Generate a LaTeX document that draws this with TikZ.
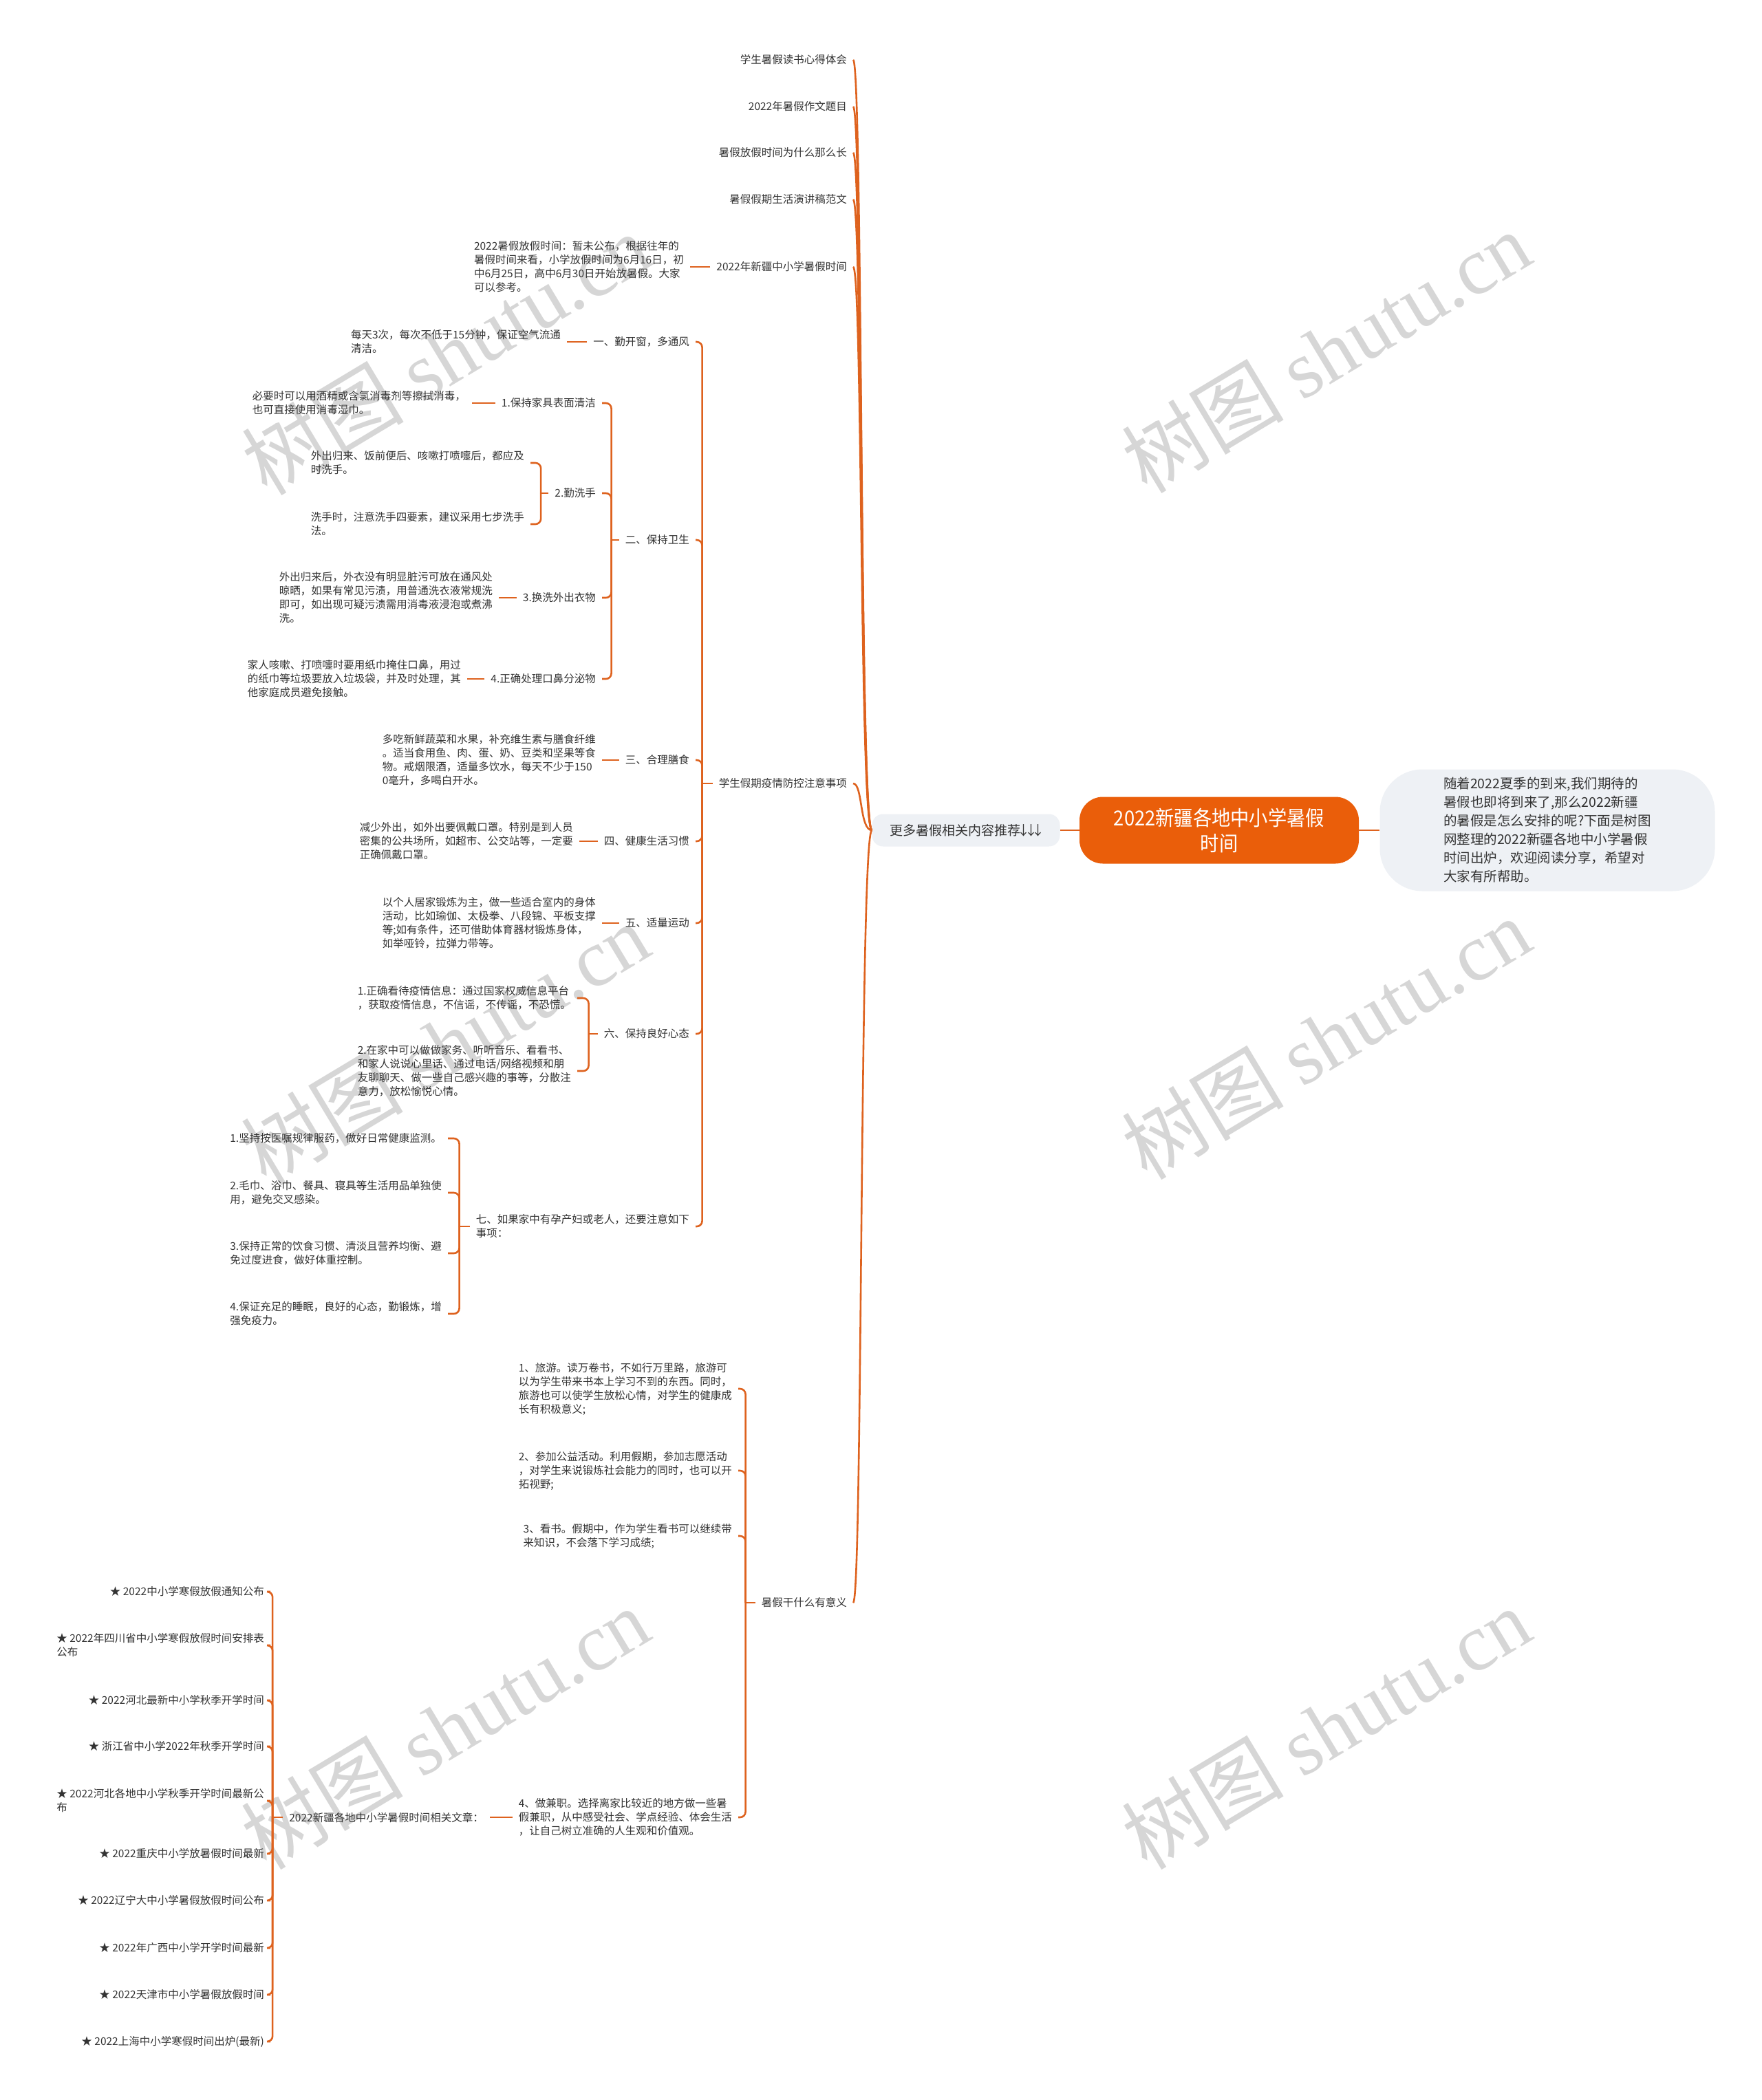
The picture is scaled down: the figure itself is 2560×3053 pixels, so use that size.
\documentclass[tikz,border=0pt]{standalone}
\usepackage{fontspec}
\setmainfont{Noto Sans CJK SC}
\newfontfamily\rootfont{Noto Sans CJK SC}[FakeStretch=0.91]
\newfontfamily\wmlat{Liberation Serif}
\definecolor{brc}{RGB}{222,98,30}
\definecolor{rootc}{RGB}{234,94,10}
\definecolor{boxc}{RGB}{238,241,245}
\definecolor{txc}{RGB}{51,51,51}
\definecolor{wmc}{RGB}{214,214,214}
\newcommand{\dnarrows}{\kern-0.25em↓\kern-0.45em↓\kern-0.45em↓\kern-0.2em}
\begin{document}
\begin{tikzpicture}[x=1pt,y=-1pt,
  br/.style={draw=brc,line width=2.6pt},
  hk/.style={br,rounded corners=8pt},
  tx/.style={inner xsep=9pt,inner ysep=3pt,align=left,text=txc,font=\fontsize{15.5pt}{20pt}\selectfont,anchor=east},
  wm/.style={text=wmc,font=\fontsize{118pt}{130pt}\selectfont,rotate=31,inner sep=0pt},
  rootbox/.style={fill=rootc,rounded corners=34pt,minimum width=406pt,minimum height=97pt,align=center,text=white,font=\rootfont\fontsize{30pt}{37pt}\selectfont,inner sep=0pt},
  graybox/.style={fill=boxc,text=txc,inner sep=0pt}]
\fill[white] (0,0) rectangle (2560,3053);
\useasboundingbox (0,0) rectangle (2560,3053);
% watermarks
\node[wm] (w1) at (648,514) {树图 {\wmlat shutu.cn}};
\node[wm] (w2) at (1927,511) {树图 {\wmlat shutu.cn}};
\node[wm] (w3) at (647,1517) {树图 {\wmlat shutu.cn}};
\node[wm] (w4) at (1927,1509) {树图 {\wmlat shutu.cn}};
\node[wm] (w5) at (647,2512) {树图 {\wmlat shutu.cn}};
\node[wm] (w6) at (1927,2512) {树图 {\wmlat shutu.cn}};
% central nodes
\node[rootbox] (root) at (1772,1207) {2022新疆各地中小学暑假\\时间};
\node[graybox,rounded corners=16pt,minimum width=273pt,minimum height=47pt,font=\fontsize{19pt}{22pt}\selectfont] (more) at (1404,1207) {更多暑假相关内容推荐\dnarrows};
\node[graybox,rounded corners=62pt,minimum width=487pt,minimum height=177pt,align=left,font=\fontsize{19.5pt}{27pt}\selectfont] (intro) at (2249,1207) {随着2022夏季的到来,我们期待的\\暑假也即将到来了,那么2022新疆\\的暑假是怎么安排的呢?下面是树图\\网整理的2022新疆各地中小学暑假\\时间出炉，欢迎阅读分享，希望对\\大家有所帮助。};
\draw[br] (root.west) -- (more.east);
\draw[br] (root.east) -- (intro.west);
% first level
\node[tx] (c1) at (1240,87) {学生暑假读书心得体会};
\node[tx] (c2) at (1240,155) {2022年暑假作文题目};
\node[tx] (c3) at (1240,222) {暑假放假时间为什么那么长};
\node[tx] (c4) at (1240,290) {暑假假期生活演讲稿范文};
\node[tx] (c5) at (1240,388) {2022年新疆中小学暑假时间};
\node[tx] (c6) at (1240,1139) {学生假期疫情防控注意事项};
\node[tx] (c7) at (1240,2330) {暑假干什么有意义};
\foreach \c in {c1,c2,c3,c4,c5,c6,c7}
  \draw[br] (more.west) .. controls +(-18,0) and +(14,0) .. (\c.east);
% c5
\node[tx] (c5a) at (1003,388) {2022暑假放假时间：暂未公布，根据往年的\\暑假时间来看，小学放假时间为6月16日，初\\中6月25日，高中6月30日开始放暑假。大家\\可以参考。};
\draw[br] (c5.west) -- (c5a.east);
% c6
\node[tx] (d1) at (1011,497) {一、勤开窗，多通风};
\node[tx] (d2) at (1011,785) {二、保持卫生};
\node[tx] (d3) at (1011,1105) {三、合理膳食};
\node[tx] (d4) at (1011,1223) {四、健康生活习惯};
\node[tx] (d5) at (1011,1342) {五、适量运动};
\node[tx] (d6) at (1011,1503) {六、保持良好心态};
\node[tx] (d7) at (1011,1783) {七、如果家中有孕产妇或老人，还要注意如下\\事项：};
\coordinate (j6) at ([xshift=-15pt]c6.west);
\draw[br] (c6.west) -- (j6);
\foreach \c in {d1,d2,d3,d4,d5,d6,d7}
  \draw[hk] (j6) |- (\c.east);
% d1
\node[tx] (e1) at (824,497) {每天3次，每次不低于15分钟，保证空气流通\\清洁。};
\draw[br] (d1.west) -- (e1.east);
% d2
\node[tx] (f1) at (875,586) {1.保持家具表面清洁};
\node[tx] (f2) at (875,717) {2.勤洗手};
\node[tx] (f3) at (875,869) {3.换洗外出衣物};
\node[tx] (f4) at (875,987) {4.正确处理口鼻分泌物};
\coordinate (jd2) at ([xshift=-11pt]d2.west);
\draw[br] (d2.west) -- (jd2);
\foreach \c in {f1,f2,f3,f4}
  \draw[hk] (jd2) |- (\c.east);
\node[tx] (g1) at (686,586) {必要时可以用酒精或含氯消毒剂等擦拭消毒，\\也可直接使用消毒湿巾。};
\draw[br] (f1.west) -- (g1.east);
\node[tx] (h1) at (771,673) {外出归来、饭前便后、咳嗽打喷嚏后，都应及\\时洗手。};
\node[tx] (h2) at (771,762) {洗手时，注意洗手四要素，建议采用七步洗手\\法。};
\coordinate (jf2) at ([xshift=-11pt]f2.west);
\draw[br] (f2.west) -- (jf2);
\foreach \c in {h1,h2}
  \draw[hk] (jf2) |- (\c.east);
\node[tx] (g3) at (725,869) {外出归来后，外衣没有明显脏污可放在通风处\\晾晒，如果有常见污渍，用普通洗衣液常规洗\\即可，如出现可疑污渍需用消毒液浸泡或煮沸\\洗。};
\draw[br] (f3.west) -- (g3.east);
\node[tx] (g4) at (679,987) {家人咳嗽、打喷嚏时要用纸巾掩住口鼻，用过\\的纸巾等垃圾要放入垃圾袋，并及时处理，其\\他家庭成员避免接触。};
\draw[br] (f4.west) -- (g4.east);
% d3-d5
\node[tx] (p3) at (875,1105) {多吃新鲜蔬菜和水果，补充维生素与膳食纤维\\。适当食用鱼、肉、蛋、奶、豆类和坚果等食\\物。戒烟限酒，适量多饮水，每天不少于150\\0毫升，多喝白开水。};
\draw[br] (d3.west) -- (p3.east);
\node[tx] (p4) at (842,1223) {减少外出，如外出要佩戴口罩。特别是到人员\\密集的公共场所，如超市、公交站等，一定要\\正确佩戴口罩。};
\draw[br] (d4.west) -- (p4.east);
\node[tx] (p5) at (875,1342) {以个人居家锻炼为主，做一些适合室内的身体\\活动，比如瑜伽、太极拳、八段锦、平板支撑\\等;如有条件，还可借助体育器材锻炼身体，\\如举哑铃，拉弹力带等。};
\draw[br] (d5.west) -- (p5.east);
% d6
\node[tx] (i1) at (839,1451) {1.正确看待疫情信息：通过国家权威信息平台\\，获取疫情信息，不信谣，不传谣，不恐慌。};
\node[tx] (i2) at (839,1557) {2.在家中可以做做家务、听听音乐、看看书、\\和家人说说心里话、通过电话/网络视频和朋\\友聊聊天、做一些自己感兴趣的事等，分散注\\意力，放松愉悦心情。};
\coordinate (jd6) at ([xshift=-13pt]d6.west);
\draw[br] (d6.west) -- (jd6);
\foreach \c in {i1,i2}
  \draw[hk] (jd6) |- (\c.east);
% d7
\node[tx] (k1) at (651,1655) {1.坚持按医嘱规律服药，做好日常健康监测。};
\node[tx] (k2) at (651,1734) {2.毛巾、浴巾、餐具、寝具等生活用品单独使\\用，避免交叉感染。};
\node[tx] (k3) at (651,1822) {3.保持正常的饮食习惯、清淡且营养均衡、避\\免过度进食，做好体重控制。};
\node[tx] (k4) at (651,1910) {4.保证充足的睡眠，良好的心态，勤锻炼，增\\强免疫力。};
\coordinate (jd7) at ([xshift=-15pt]d7.west);
\draw[br] (d7.west) -- (jd7);
\foreach \c in {k1,k2,k3,k4}
  \draw[hk] (jd7) |- (\c.east);
% c7
\node[tx] (m1) at (1073,2019) {1、旅游。读万卷书，不如行万里路，旅游可\\以为学生带来书本上学习不到的东西。同时，\\旅游也可以使学生放松心情，对学生的健康成\\长有积极意义;};
\node[tx] (m2) at (1073,2138) {2、参加公益活动。利用假期，参加志愿活动\\，对学生来说锻炼社会能力的同时，也可以开\\拓视野;};
\node[tx] (m3) at (1073,2233) {3、看书。假期中，作为学生看书可以继续带\\来知识，不会落下学习成绩;};
\node[tx] (m4) at (1073,2642) {4、做兼职。选择离家比较近的地方做一些暑\\假兼职，从中感受社会、学点经验、体会生活\\，让自己树立准确的人生观和价值观。};
\coordinate (jc7) at ([xshift=-14pt]c7.west);
\draw[br] (c7.west) -- (jc7);
\foreach \c in {m1,m2,m3,m4}
  \draw[hk] (jc7) |- (\c.east);
\node[tx] (n) at (712,2642) {2022新疆各地中小学暑假时间相关文章：};
\draw[br] (m4.west) -- (n.east);
\node[tx] (o1) at (393,2314) {★ 2022中小学寒假放假通知公布};
\node[tx] (o2) at (393,2392) {★ 2022年四川省中小学寒假放假时间安排表\\公布};
\node[tx] (o3) at (393,2472) {★ 2022河北最新中小学秋季开学时间};
\node[tx] (o4) at (393,2539) {★ 浙江省中小学2022年秋季开学时间};
\node[tx] (o5) at (393,2618) {★ 2022河北各地中小学秋季开学时间最新公\\布};
\node[tx] (o6) at (393,2695) {★ 2022重庆中小学放暑假时间最新};
\node[tx] (o7) at (393,2763) {★ 2022辽宁大中小学暑假放假时间公布};
\node[tx] (o8) at (393,2832) {★ 2022年广西中小学开学时间最新};
\node[tx] (o9) at (393,2900) {★ 2022天津市中小学暑假放假时间};
\node[tx] (o10) at (393,2968) {★ 2022上海中小学寒假时间出炉(最新)};
\coordinate (jn) at ([xshift=-15pt]n.west);
\draw[br] (n.west) -- (jn);
\foreach \c in {o1,o2,o3,o4,o5,o6,o7,o8,o9,o10}
  \draw[hk] (jn) |- (\c.east);
\end{tikzpicture}
\end{document}
